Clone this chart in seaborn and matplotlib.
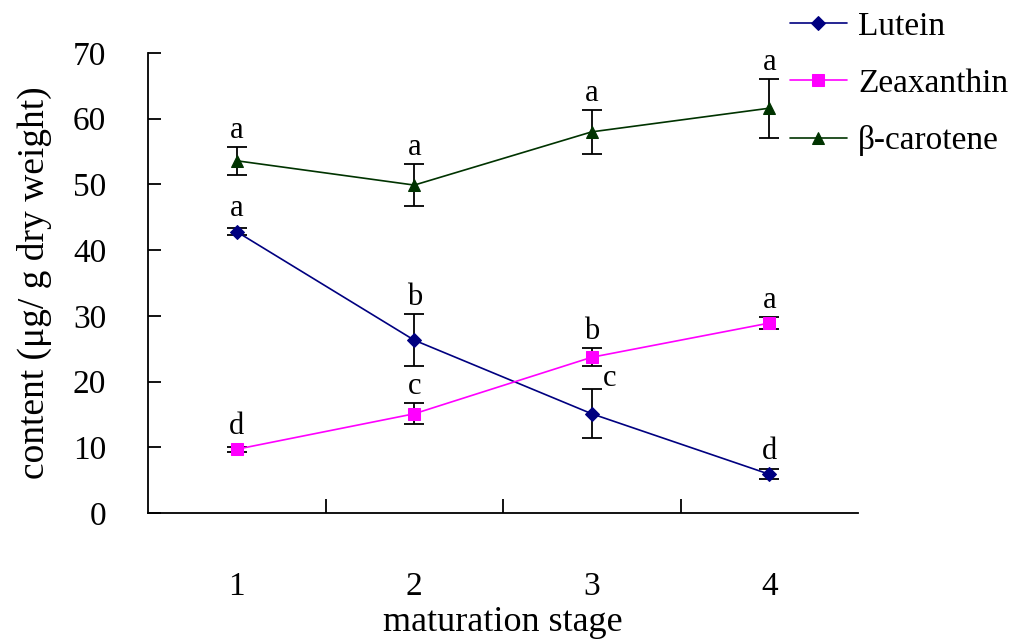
import matplotlib
matplotlib.use("Agg")
import matplotlib.pyplot as plt
import seaborn as sns
import pandas as pd
import numpy as np

# ---- data ----
stages = ["1", "2", "3", "4"]
lutein = [42.8, 26.3, 15.1, 5.9]
lutein_sd = [0.5, 4.0, 3.7, 0.8]
lutein_letters = ["a", "b", "c", "d"]
zeaxanthin = [9.7, 15.1, 23.7, 28.9]
zeaxanthin_sd = [0.4, 1.6, 1.4, 0.9]
zeaxanthin_letters = ["d", "c", "b", "a"]
carotene = [53.6, 49.9, 58.0, 61.6]
carotene_sd = [2.1, 3.2, 3.4, 4.5]
carotene_letters = ["a", "a", "a", "a"]
series_names = ["Lutein", "Zeaxanthin", "\u03b2-carotene"]

sns.set_theme(style="ticks")
plt.rcParams["font.family"] = ["Liberation Serif", "DejaVu Serif"]
plt.rcParams["text.color"] = "black"
plt.rcParams["axes.labelcolor"] = "black"
plt.rcParams["xtick.color"] = "black"
plt.rcParams["ytick.color"] = "black"

fig = plt.figure(figsize=(10.2, 6.41), dpi=100)
ax = fig.add_axes([148/1020, 1-513/641, (858-148)/1020, (513-53)/641])

x = np.arange(len(stages))
rows = []
for name, vals in zip(series_names, [lutein, zeaxanthin, carotene]):
    for xi, v in zip(x, vals):
        rows.append({"stage": xi, "content": v, "series": name})
df = pd.DataFrame(rows)

colors = {"Lutein": "#000080", "Zeaxanthin": "#FF00FF", "\u03b2-carotene": "#003300"}
markers = {"Lutein": "D", "Zeaxanthin": "s", "\u03b2-carotene": "^"}
sizes = {"Lutein": 7, "Zeaxanthin": 8, "\u03b2-carotene": 9}

for name in series_names:
    sub = df[df["series"] == name]
    sns.lineplot(data=sub, x="stage", y="content", ax=ax, color=colors[name],
                 marker=markers[name], markersize=sizes[name], markeredgecolor=colors[name],
                 linewidth=1.2, label=name, legend=False)

sds = [lutein_sd, zeaxanthin_sd, carotene_sd]
vals_all = [lutein, zeaxanthin, carotene]
letters_all = [lutein_letters, zeaxanthin_letters, carotene_letters]
for vals, sd in zip(vals_all, sds):
    ax.errorbar(x, vals, yerr=sd, fmt="none", ecolor="black", elinewidth=1.3,
                capsize=7, capthick=1.3, zorder=1)

for si, (vals, sd, lets) in enumerate(zip(vals_all, sds, letters_all)):
    for i, (v, s, l) in enumerate(zip(vals, sd, lets)):
        if si == 0 and i == 2:
            ax.text(x[i] + 0.06, v + s - 0.6, l, ha="left", va="bottom", fontsize=22)
        else:
            top = v + max(s, 1.0)
            ax.text(x[i], top + 0.3, l, ha="center", va="bottom", fontsize=22)

ax.set_xlim(-0.5, 3.5)
ax.set_ylim(0, 70)
ax.set_yticks(range(0, 71, 10))
ax.set_xticks(x)
ax.set_xticklabels(stages)
ax.set_xticks([0.5, 1.5, 2.5], minor=True)
ax.tick_params(axis="x", which="major", length=0, pad=42, labelsize=24)
ax.tick_params(axis="x", which="minor", length=10, width=1.3, direction="in", color="black")
ax.tick_params(axis="y", length=9, width=1.3, direction="in", pad=30, labelsize=24, color="black")
for sp in ["top", "right"]:
    ax.spines[sp].set_visible(False)
for sp in ["left", "bottom"]:
    ax.spines[sp].set_color("black")
    ax.spines[sp].set_linewidth(1.3)

ax.set_xlabel("maturation stage", fontsize=26, labelpad=3)
ax.set_ylabel("content (\u03bcg/ g dry weight)", fontsize=27, labelpad=15)

handles, labels = ax.get_legend_handles_labels()
fig.legend(handles, labels, loc="upper left", bbox_to_anchor=(770/1020, 1.014),
           frameon=False, fontsize=24, handlelength=1.7, handletextpad=0.35,
           labelspacing=0.8, borderpad=0.1)

fig.savefig("out.png", dpi=100)
